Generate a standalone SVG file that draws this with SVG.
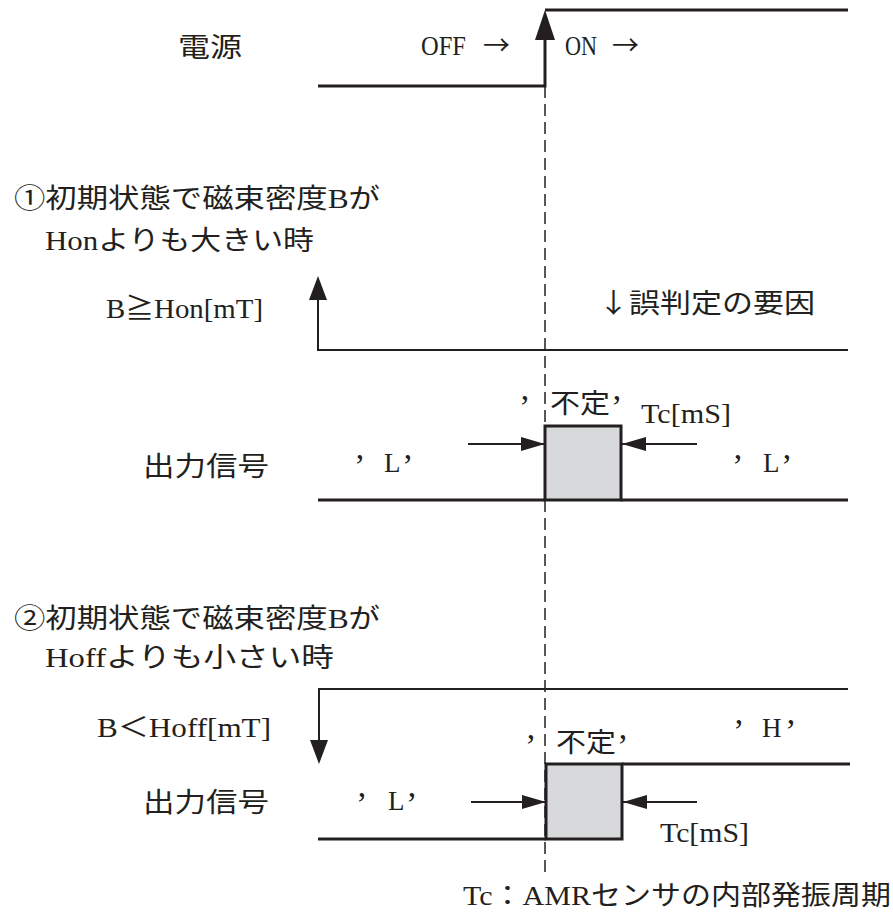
<svg xmlns="http://www.w3.org/2000/svg" width="893" height="912" viewBox="0 0 893 912">
<style>
.t{font-family:"Liberation Serif","Noto Sans CJK JP",serif;font-size:27px;fill:#231f20}
.cj{font-family:"Noto Sans CJK JP",sans-serif}
.q{font-family:"Liberation Serif",serif;font-size:34px}
.thick{fill:none;stroke:#231f20;stroke-width:3}
.thin{fill:none;stroke:#231f20;stroke-width:2}
.dash{fill:none;stroke:#231f20;stroke-width:1.5;stroke-dasharray:12 6}
.box{fill:#d8d9da;stroke:#231f20;stroke-width:3}
.head{fill:#231f20}
</style>
<defs>
<marker id="ah" markerUnits="userSpaceOnUse" markerWidth="26" markerHeight="16" refX="24" refY="7" orient="auto">
<path d="M0,0 L24,7 L0,14 Z" class="head"/>
</marker>
</defs>
<g id="power">
<text class="t" x="178" y="57" textLength="64" lengthAdjust="spacingAndGlyphs">電源</text>
<text class="t" y="55"><tspan x="421" textLength="45" lengthAdjust="spacingAndGlyphs">OFF</tspan><tspan class="cj" x="483">→</tspan></text>
<text class="t" y="55"><tspan x="565" textLength="32" lengthAdjust="spacingAndGlyphs">ON</tspan><tspan class="cj" x="612">→</tspan></text>
<path class="thick" d="M318,86 H545 V30 M545,10 H848"/>
<polygon class="head" points="545,10 535,40 555,40"/>
</g>
<g id="connectors">
<line class="dash" x1="545" y1="86" x2="545" y2="878"/>
</g>
<g id="case1">
<text class="t" x="14" y="208" textLength="366" lengthAdjust="spacingAndGlyphs">①初期状態で磁束密度Bが</text>
<text class="t" x="45" y="250" textLength="269" lengthAdjust="spacingAndGlyphs">Honよりも大きい時</text>
<text class="t" x="106" y="318" textLength="157" lengthAdjust="spacingAndGlyphs">B≧Hon[mT]</text>
<text class="t cj" x="598" y="313" textLength="217" lengthAdjust="spacingAndGlyphs">↓誤判定の要因</text>
<path class="thin" d="M318,298 V350 H848"/>
<polygon class="head" points="318,276 309,300 327,300"/>
</g>
<g id="out1">
<text class="t"><tspan class="q" x="519" y="418">’</tspan><tspan x="550" y="413" textLength="60" lengthAdjust="spacingAndGlyphs">不定</tspan><tspan class="q" x="611" y="418">’</tspan></text>
<text class="t" x="641" y="423" textLength="90" lengthAdjust="spacingAndGlyphs">Tc[mS]</text>
<text class="t" x="143" y="476" textLength="126" lengthAdjust="spacingAndGlyphs">出力信号</text>
<text class="t"><tspan class="q" x="354" y="477">’</tspan><tspan x="384" y="472">L</tspan><tspan class="q" x="402" y="477">’</tspan></text>
<text class="t"><tspan class="q" x="732" y="477">’</tspan><tspan x="763" y="472">L</tspan><tspan class="q" x="781" y="477">’</tspan></text>
<rect class="box" x="545" y="426" width="76" height="74"/>
<path class="thick" d="M318,500 H545 M621,500 H848"/>
<line class="thin" x1="468" y1="444" x2="545" y2="444" marker-end="url(#ah)"/>
<line class="thin" x1="697" y1="444" x2="622" y2="444" marker-end="url(#ah)"/>
</g>
<g id="case2">
<text class="t" x="14" y="628" textLength="366" lengthAdjust="spacingAndGlyphs">②初期状態で磁束密度Bが</text>
<text class="t" x="45" y="667" textLength="289" lengthAdjust="spacingAndGlyphs">Hoffよりも小さい時</text>
<text class="t" x="97" y="737" textLength="174" lengthAdjust="spacingAndGlyphs">B＜Hoff[mT]</text>
<path class="thin" d="M848,689 H319 V742"/>
<polygon class="head" points="319,764 310,740 328,740"/>
</g>
<g id="out2">
<text class="t"><tspan class="q" x="525" y="757">’</tspan><tspan x="556" y="752" textLength="60" lengthAdjust="spacingAndGlyphs">不定</tspan><tspan class="q" x="617" y="757">’</tspan></text>
<text class="t"><tspan class="q" x="733" y="742">’</tspan><tspan x="762" y="737">H</tspan><tspan class="q" x="785" y="742">’</tspan></text>
<text class="t" x="143" y="812" textLength="126" lengthAdjust="spacingAndGlyphs">出力信号</text>
<text class="t"><tspan class="q" x="356" y="815">’</tspan><tspan x="388" y="810">L</tspan><tspan class="q" x="406" y="815">’</tspan></text>
<text class="t" x="660" y="842" textLength="89" lengthAdjust="spacingAndGlyphs">Tc[mS]</text>
<rect class="box" x="546" y="764" width="76" height="75"/>
<path class="thick" d="M318,839 H546 M622,764 H850"/>
<line class="thin" x1="471" y1="802" x2="546" y2="802" marker-end="url(#ah)"/>
<line class="thin" x1="697" y1="802" x2="623" y2="802" marker-end="url(#ah)"/>
</g>
<g id="note">
<text class="t" x="463" y="905" textLength="428" lengthAdjust="spacingAndGlyphs">Tc：AMRセンサの内部発振周期</text>
</g>
</svg>
